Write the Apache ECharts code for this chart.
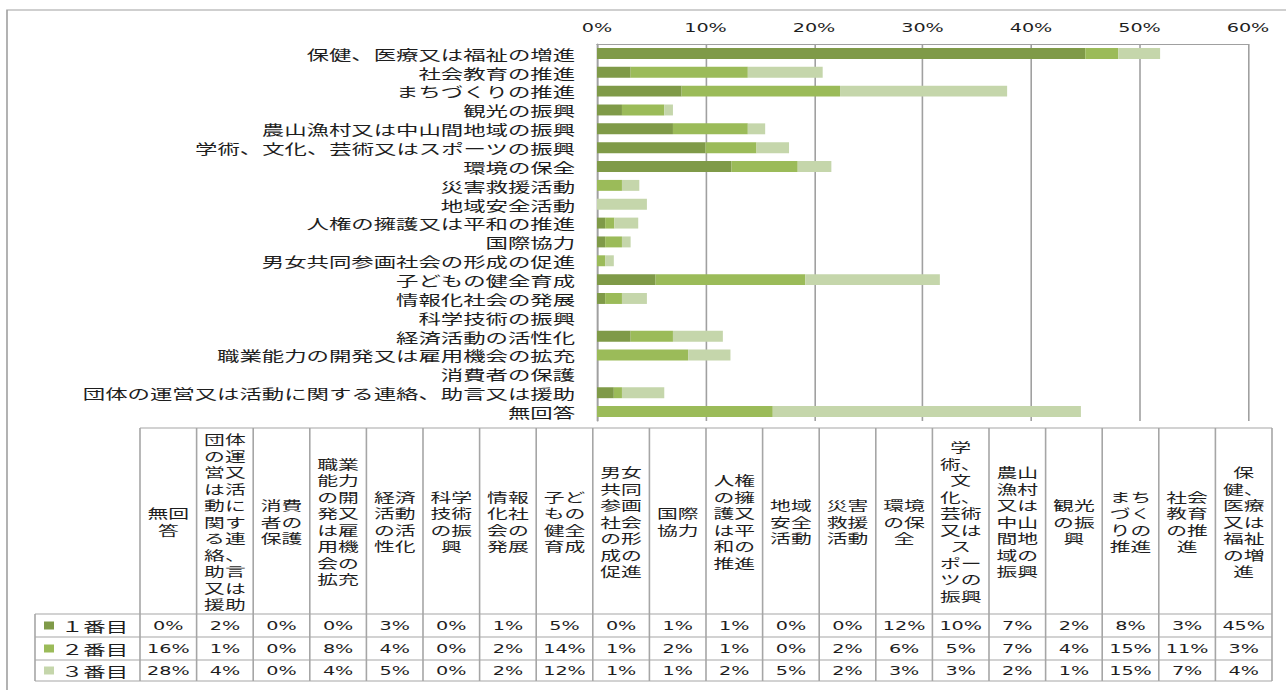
<!DOCTYPE html>
<html>
<head>
<meta charset="utf-8">
<script src="https://cdn.jsdelivr.net/npm/echarts@6/dist/echarts.min.js"></script>
<style>
html,body{margin:0;padding:0;background:#fff;overflow:hidden;}
#wrap{width:1286px;height:690px;overflow:hidden;position:relative;}
#c{width:803.75px;height:690px;transform:scaleX(1.6);transform-origin:0 0;}
</style>
</head>
<body>
<div id="wrap"><div id="c"></div></div>
<script>
// ---- data (bottom-to-top order on the chart, left-to-right in the table) ----
const categories = ['無回答','団体の運営又は活動に関する連絡、助言又は援助','消費者の保護','職業能力の開発又は雇用機会の拡充','経済活動の活性化','科学技術の振興','情報化社会の発展','子どもの健全育成','男女共同参画社会の形成の促進','国際協力','人権の擁護又は平和の推進','地域安全活動','災害救援活動','環境の保全','学術、文化、芸術又はスポーツの振興','農山漁村又は中山間地域の振興','観光の振興','まちづくりの推進','社会教育の推進','保健、医療又は福祉の増進'];
const seriesNames = ['１番目','２番目','３番目'];
const first  = [0, 1.55, 0, 0, 3.1, 0, 0.75, 5.4, 0, 0.75, 0.75, 0, 0, 12.4, 10.0, 7.0, 2.3, 7.8, 3.1, 45.0];
const second = [16.2, 0.75, 0, 8.4, 3.9, 0, 1.55, 13.8, 0.75, 1.55, 0.85, 0, 2.3, 6.1, 4.7, 6.9, 3.9, 14.6, 10.8, 3.05];
const third  = [28.4, 3.9, 0, 3.9, 4.6, 0, 2.3, 12.4, 0.8, 0.8, 2.2, 4.6, 1.6, 3.1, 3.0, 1.6, 0.8, 15.4, 6.9, 3.85];
const xTicks = {min: 0, max: 60, interval: 10};
const colors = ['#7F9A48', '#9BBB59', '#C5D6AB'];

// ---- layout helpers ----
const S = 1.6;               // horizontal stretch of the page
const ux = px => px / S;     // screen px -> chart units
const CJK = '"Noto Sans CJK JP", "Noto Sans CJK SC", sans-serif';
const NUM = '"DejaVu Sans", sans-serif';
const lineColor = '#a6a6a6';
const textColor = '#1e1e1e';

function wrap2(s) {
  const noStart = '、。ー';
  const chars = [...s], lines = [];
  let cur = [];
  for (const c of chars) {
    if (cur.length < 2) { cur.push(c); continue; }
    if (noStart.includes(c)) { const last = cur.pop(); lines.push(cur.join('')); cur = [last, c]; }
    else { lines.push(cur.join('')); cur = [c]; }
  }
  if (cur.length) lines.push(cur.join(''));
  return lines;
}

const allSeries = [first, second, third];
const tableLeft = 140, colW = 56.6, n = categories.length;
const tableRight = tableLeft + colW * n;
const legLeft = 35;
const yHeadTop = 428, yHeadBot = 614;
const rowYs = [614, 637, 660, 681];
const headLH = 16.5;

const g = [];
function line(x1, y1, x2, y2) {
  g.push({type: 'line', silent: true, shape: {x1: ux(x1), y1, x2: ux(x2), y2}, style: {stroke: lineColor, lineWidth: 1}});
}
// outer chart border
g.push({type: 'rect', silent: true, shape: {x: ux(7), y: 10, width: ux(1300), height: 700}, style: {fill: 'none', stroke: '#a0a0a0', lineWidth: 1}});
// table grid
line(tableLeft, yHeadTop, tableRight, yHeadTop);
rowYs.forEach(y => line(legLeft, y, tableRight, y));
for (let i = 0; i <= n; i++) line(tableLeft + i * colW, yHeadTop, tableLeft + i * colW, rowYs[3]);
line(legLeft, rowYs[0], legLeft, rowYs[3]);
// header texts: one text element per wrapped line
categories.forEach((c, i) => {
  const lines = wrap2(c);
  const y0 = (yHeadTop + yHeadBot) / 2 - (lines.length - 1) * headLH / 2;
  lines.forEach((t, k) => {
    g.push({type: 'text', silent: true, x: ux(tableLeft + (i + 0.5) * colW), y: y0 + k * headLH,
      style: {text: t, align: 'center', verticalAlign: 'middle', font: '13px ' + CJK, fill: textColor}});
  });
});
// value cells and legend keys
allSeries.forEach((arr, r) => {
  const yc = (rowYs[r] + rowYs[r + 1]) / 2;
  arr.forEach((v, i) => {
    g.push({type: 'text', silent: true, x: ux(tableLeft + (i + 0.5) * colW), y: yc + 0.5,
      style: {text: Math.round(v) + '%', align: 'center', verticalAlign: 'middle', font: '12px ' + NUM, fill: textColor}});
  });
  g.push({type: 'rect', silent: true, shape: {x: ux(44), y: yc - 4, width: ux(10), height: 8}, style: {fill: colors[r]}});
  g.push({type: 'text', silent: true, x: ux(61), y: yc,
    style: {text: seriesNames[r], align: 'left', verticalAlign: 'middle', font: '14px ' + CJK, fill: textColor}});
});

const chart = echarts.init(document.getElementById('c'), null, {renderer: 'svg'});
chart.setOption({
  animation: false,
  backgroundColor: '#fff',
  color: colors,
  grid: {left: ux(597), top: 44, width: ux(651), height: 377, containLabel: false},
  xAxis: {
    type: 'value', position: 'top', min: xTicks.min, max: xTicks.max, interval: xTicks.interval,
    axisLabel: {formatter: '{value}%', fontSize: 12, fontFamily: NUM, color: textColor, margin: 10},
    axisLine: {show: true, lineStyle: {color: '#a0a0a0', width: 1}},
    axisTick: {show: false},
    splitLine: {show: true, lineStyle: {color: '#a0a0a0', width: 1}}
  },
  yAxis: {
    type: 'category', data: categories,
    axisLabel: {interval: 0, fontSize: 14, fontFamily: CJK, color: textColor, margin: ux(22)},
    axisLine: {show: true, lineStyle: {color: '#a0a0a0', width: 1}},
    axisTick: {show: false}
  },
  series: allSeries.map((d, i) => ({
    name: seriesNames[i], type: 'bar', stack: 'total', data: d,
    barCategoryGap: '42%', itemStyle: {color: colors[i]}
  })),
  graphic: g
});
</script>
</body>
</html>
